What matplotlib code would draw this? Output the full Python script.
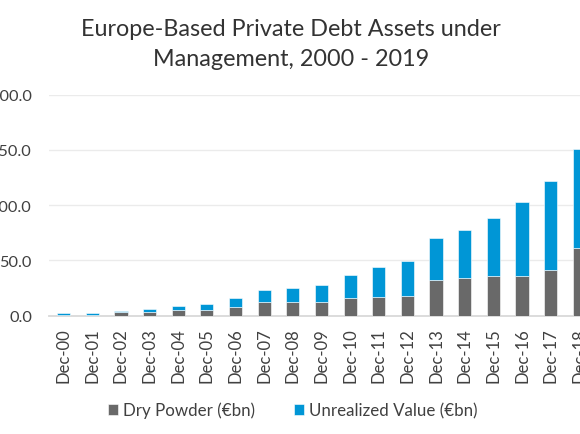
import numpy as np
import matplotlib.pyplot as plt

# values (EUR bn)
labels = ['Dec-00', 'Dec-01', 'Dec-02', 'Dec-03', 'Dec-04', 'Dec-05', 'Dec-06',
          'Dec-07', 'Dec-08', 'Dec-09', 'Dec-10', 'Dec-11', 'Dec-12', 'Dec-13',
          'Dec-14', 'Dec-15', 'Dec-16', 'Dec-17', 'Dec-18']
dry_powder = [0.8, 0.8, 3.3, 3.6, 4.9, 4.9, 8.1, 12.1, 12.1, 12.1, 16.0, 16.9,
              17.5, 32.3, 33.8, 35.9, 35.9, 41.6, 61.3]
unrealized = [1.6, 1.6, 0.7, 2.7, 3.6, 6.0, 7.6, 10.9, 13.2, 16.0, 21.1, 26.9,
              32.3, 38.0, 43.8, 52.8, 67.3, 80.0, 89.8]
yticks = [0, 50, 100, 150, 200]

gray = '#696969'
blue = '#0096d6'
txt = '#404040'

plt.rcParams['font.family'] = ['Lato', 'DejaVu Sans']

fig = plt.figure(figsize=(5.8, 4.35), dpi=100)
# plot area runs past the right edge of the picture, as in the original crop
ax = fig.add_axes([49.3 / 580, 118.3 / 435, 573 / 580, 221 / 435])

x = np.arange(len(labels))
ax.bar(x, dry_powder, width=0.46, color=gray, edgecolor='white', linewidth=0.4,
       label='Dry Powder (€bn)', zorder=3)
ax.bar(x, unrealized, width=0.46, bottom=dry_powder, color=blue,
       edgecolor='white', linewidth=0.4, label='Unrealized Value (€bn)', zorder=3)

ax.set_xlim(-0.5, 19.5)
ax.set_ylim(0, 200)
ax.set_yticks(yticks)
ax.set_yticklabels(['%.1f' % v for v in yticks])
ax.set_xticks(x)
ax.set_xticklabels(labels, rotation=90)
ax.tick_params(axis='y', length=0, pad=12.5, labelsize=11.8, labelcolor=txt)
ax.tick_params(axis='x', length=0, pad=8, labelsize=12, labelcolor=txt)

ax.grid(axis='y', color='#ebebeb', linewidth=1, zorder=0)
for s in ['top', 'right', 'left']:
    ax.spines[s].set_visible(False)
ax.spines['bottom'].set_color('#d9d9d9')
ax.spines['bottom'].set_linewidth(1.3)

fig.text(291 / 580, 1 - 36 / 435, 'Europe-Based Private Debt Assets under',
         ha='center', va='baseline', fontsize=16.8, color='#333333')
fig.text(291 / 580, 1 - 66 / 435, 'Management, 2000 - 2019',
         ha='center', va='baseline', fontsize=16.8, color='#333333')

fig.legend(loc='center', bbox_to_anchor=(293 / 580, 1 - 411 / 435), ncol=2,
           frameon=False, fontsize=12.2, labelcolor=txt, handlelength=0.6,
           handleheight=0.6, handletextpad=0.3, columnspacing=2.3)

fig.savefig('out.png', dpi=100)
